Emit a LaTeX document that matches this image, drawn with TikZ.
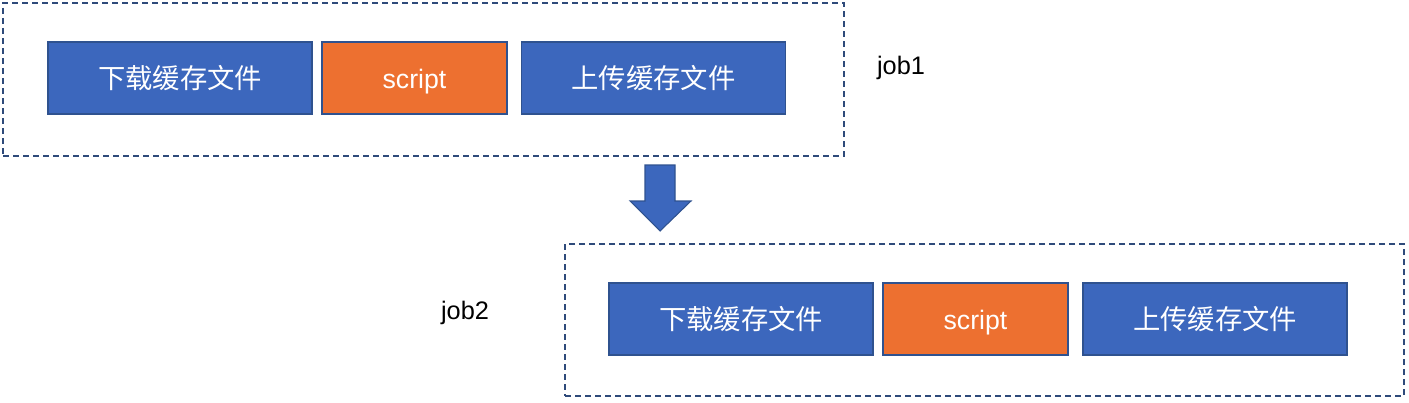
\documentclass[tikz,border=0pt]{standalone}
\usepackage{fontspec}
\setmainfont{Liberation Sans}
\newfontfamily\cjk{Noto Sans CJK SC}
\definecolor{stepblue}{HTML}{3C67BD}
\definecolor{steporange}{HTML}{ED7030}
\definecolor{stepline}{HTML}{2F528F}
\definecolor{jobline}{HTML}{2E4A7A}
\begin{document}
\begin{tikzpicture}[x=0.75pt, y=-0.75pt,
  stepbox/.style={rectangle,draw=stepline,line width=1.2pt,fill=stepblue,text=white,minimum height=54pt,inner sep=0pt,text height=17pt,text depth=1pt,font=\fontsize{20}{24}\selectfont},
  cache node/.style={stepbox,minimum width=198pt,text height=17pt,text depth=1.5pt,font=\cjk\fontsize{20.5}{24}\selectfont},
  script node/.style={stepbox,fill=steporange,minimum width=138.75pt},
  job node/.style={rectangle,draw=jobline,line width=1.1pt,dash pattern=on 4.5pt off 3pt,inner sep=0pt},
  job label/.style={font=\fontsize{19}{23}\selectfont}]
\useasboundingbox (0,0) rectangle (1409,403);
% job1
\node[job node,minimum width=630.75pt,minimum height=114.75pt] (j1) at (423.5,79.5) {};
\node[cache node] (d1) at (180,78) {下载缓存文件};
\node[script node] (s1) at (414.5,78) {script};
\node[cache node] (u1) at (653.5,78) {上传缓存文件};
\node[job label] (l1) at (901,68) {job1};
% arrow
\draw[stepline,line width=0.8pt,fill=stepblue,line join=miter]
  (645,165) -- (675,165) -- (675,201) -- (691,201) -- (660,231) -- (630,201) -- (645,201) -- cycle;
% job2
\node[job node,minimum width=629.25pt,minimum height=114pt] (j2) at (984.5,320) {};
\node[cache node] (d2) at (741,319) {下载缓存文件};
\node[script node] (s2) at (975.5,319) {script};
\node[cache node] (u2) at (1215,319) {上传缓存文件};
\node[job label] (l2) at (465,313) {job2};
\end{tikzpicture}
\end{document}
